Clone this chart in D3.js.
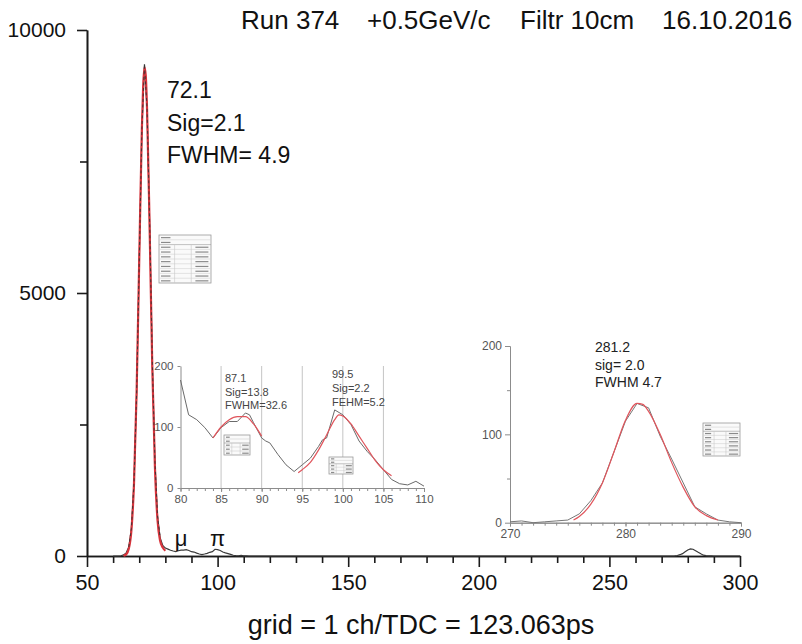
<!DOCTYPE html>
<html>
<head>
<meta charset="utf-8">
<script src="https://cdn.jsdelivr.net/npm/d3@7"></script>
<style>
  html, body { margin: 0; padding: 0; background: #fff; }
  svg { display: block; }
  text { font-family: "Liberation Sans", Arial, Helvetica, sans-serif; }
</style>
</head>
<body>
<svg id="chart" width="802" height="644"></svg>
<script>
// ---------------- DATA ----------------
const titleParts = ["Run 374", "+0.5GeV/c", "Filtr 10cm", "16.10.2016"];
const xAxisTitle = "grid = 1 ch/TDC = 123.063ps";

const mainXTicks = [50, 100, 150, 200, 250, 300];
const mainXMinorTicks = [60, 70, 80, 90, 110, 120, 130, 140, 160, 170, 180, 190, 210, 220, 230, 240, 260, 270, 280, 290];
const mainYTicks = [0, 5000, 10000];
const mainYMinorTicks = [2500, 7500];

// [channel, counts]
const mainSpectrum = [
  [60,0],[62,0],[63,5],[64,20],[65,60],[66,170],[67,520],[68,1400],[69,3100],[70,5600],
  [71,8100],[72,9350],[73,8500],[74,6300],[75,3700],[76,1800],[77,760],[78,350],[79,200],[80,150],
  [81,130],[82,110],[83,95],[84,85],[85,100],[86,110],[87,112],[88,122],[89,105],[90,82],
  [91,75],[92,55],[93,38],[94,28],[95,38],[96,50],[97,70],[98,82],[99,128],[100,120],
  [101,104],[102,77],[103,60],[104,46],[105,30],[106,14],[107,7],[108,5],[109,11],[110,3],
  [111,1],[112,0],[274,0],[275,3],[276,10],[277,25],[278,45],[279,80],[280,115],[281,135],
  [282,128],[283,100],[284,70],[285,42],[286,16],[287,8],[288,3],[289,1],[290,0],[300,0]
];
const mainFit = [
  [64,6],[65,31],[66,137],[67,487],[68,1383],[69,3129],[70,5641],[71,8108],[71.5,8928],
  [72,9289],[72.5,9133],[73,8484],[74,6176],[75,3584],[76,1700],[77,680],[78,290],[79,160],[80,100]
];
const mainPeakLabel = ["72.1", "Sig=2.1", "FWHM= 4.9"];
const particleLabels = [["\u03bc", 86], ["\u03c0", 100]];

// inset 1 (muon / pion region)
const inset1XTicks = [80, 85, 90, 95, 100, 105, 110];
const inset1YTicks = [0, 100, 200];
const inset1Spectrum = [
  [80,177],[81,120],[82,112],[83,99],[84,82],[85,99],[86,109],[87,109],[88,123],[88.5,120],
  [89,107],[90,82],[90.5,77],[91,74],[92,55],[93,38],[94,27],[95,38],[96,49],[97,68],
  [97.5,79],[98,82],[99,128],[100,120],[101,104],[102,77],[103,60],[104,46],[105,30],[106,14],
  [107,7],[108,5],[109,11],[110,3]
];
const inset1FitA = [[84,82],[85,100],[86,112],[87,117],[88,117],[89,105],[90,85]];
const inset1FitB = [
  [94.5,25],[95,30],[96,42],[97,62],[98,87],[99,112],[99.5,120],[100,118],[101,105],
  [102,85],[103,65],[104,45],[105,30],[106,20]
];
const inset1LabelA = ["87.1", "Sig=13.8", "FWHM=32.6"];
const inset1LabelB = ["99.5", "Sig=2.2", "FEHM=5.2"];

// inset 2 (channel 280 region)
const inset2XTicks = [270, 280, 290];
const inset2YTicks = [0, 100, 200];
const inset2YMinorTicks = [50, 150];
const inset2Spectrum = [
  [270,1],[271,2],[272,0],[273,1],[274,2],[275,3],[276,10],[277,25],[278,45],[279,80],
  [280,115],[281,135],[282,130],[283,98],[284,72],[285,45],[286,18],[287,10],[288,3],[289,1],[290,0]
];
const inset2Fit = [
  [275.5,3],[276,7],[277,21],[278,45],[279,80],[280,116],[281,135],[281.5,134],[282,126],
  [283,100],[284,68],[285,40],[286,18],[287,8],[288,3]
];
const inset2Label = ["281.2", "sig= 2.0", "FWHM 4.7"];

// ---------------- DRAW ----------------
const svg = d3.select("#chart");
const RED = "#d8343c";
const INK = "#1a1a1a";
const GRAY = "#8c8c8c";

// main scales
const x = d3.scaleLinear().domain([50, 300]).range([87, 740]);
const y = d3.scaleLinear().domain([0, 10000]).range([556, 30]);

function styleAxis(g, color, width, fontSize) {
  g.select(".domain").attr("stroke", color).attr("stroke-width", width);
  g.selectAll(".tick line").attr("stroke", color).attr("stroke-width", width);
  g.selectAll(".tick text").attr("fill", color === INK ? "#111" : "#555")
    .attr("font-size", fontSize).attr("font-family", '"Liberation Sans", Arial, sans-serif');
}

// main x-axis
const gxMinor = svg.append("g").attr("transform", `translate(0,${y(0)})`)
  .call(d3.axisBottom(x).tickValues(mainXMinorTicks).tickSize(7).tickSizeOuter(0).tickFormat(""));
styleAxis(gxMinor, INK, 1.6, 20);
const gx = svg.append("g").attr("transform", `translate(0,${y(0)})`)
  .call(d3.axisBottom(x).tickValues(mainXTicks).tickSize(11).tickSizeOuter(0).tickPadding(8).tickFormat(d3.format("d")));
styleAxis(gx, INK, 1.6, 21.5);

// main y-axis
const gyMinor = svg.append("g").attr("transform", `translate(${x(50)},0)`)
  .call(d3.axisLeft(y).tickValues(mainYMinorTicks).tickSize(7).tickSizeOuter(0).tickFormat(""));
styleAxis(gyMinor, INK, 1.6, 20);
const gy = svg.append("g").attr("transform", `translate(${x(50)},0)`)
  .call(d3.axisLeft(y).tickValues(mainYTicks).tickSize(10).tickSizeOuter(0).tickPadding(11).tickFormat(d3.format("d")));
styleAxis(gy, INK, 1.6, 21);

// title
const titleX = [241, 367, 520, 662];
svg.append("g").selectAll("text").data(titleParts).join("text")
  .attr("x", (d, i) => titleX[i]).attr("y", 29)
  .attr("font-size", 26).attr("fill", "#111").text(d => d);

// x-axis title
svg.append("text").attr("x", 421).attr("y", 634)
  .attr("text-anchor", "middle").attr("font-size", 27).attr("fill", "#111").text(xAxisTitle);

// main lines
const mainLine = d3.line().x(d => x(d[0])).y(d => y(d[1]));
const mainFitLine = d3.line().x(d => x(d[0])).y(d => y(d[1])).curve(d3.curveMonotoneX);

svg.append("path").datum(mainSpectrum).attr("d", mainLine)
  .attr("fill", "none").attr("stroke", "#3a3a3a").attr("stroke-width", 1.2);
svg.append("path").datum(mainFit).attr("d", mainFitLine)
  .attr("fill", "none").attr("stroke", RED).attr("stroke-width", 2.2);
svg.append("path").datum(mainSpectrum.filter(d => d[0] >= 66 && d[0] <= 78)).attr("d", mainLine)
  .attr("fill", "none").attr("stroke", "#333").attr("stroke-width", 0.9).attr("stroke-dasharray", "3,2.5");

// main peak label
svg.append("g").selectAll("text").data(mainPeakLabel).join("text")
  .attr("x", 167).attr("y", (d, i) => 98 + i * 32.5)
  .attr("font-size", 23).attr("fill", "#111").text(d => d);

// particle labels
svg.append("g").selectAll("text").data(particleLabels).join("text")
  .attr("x", d => x(d[1])).attr("y", 546)
  .attr("text-anchor", "middle").attr("font-size", 22)
  .attr("font-family", '"Liberation Serif", "DejaVu Serif", serif').attr("fill", "#111")
  .text(d => d[0]);

// stat boxes (decorative, unreadable tables)
function statBox(bx, by, bw, bh, rows) {
  const g = svg.append("g").attr("transform", `translate(${bx},${by})`);
  g.append("rect").attr("width", bw).attr("height", bh).attr("fill", "#fafafa")
    .attr("stroke", "#9a9a9a").attr("stroke-width", 0.8);
  const rh = bh / rows;
  for (let i = 1; i < rows; i++) {
    g.append("line").attr("x1", 0).attr("x2", bw).attr("y1", i * rh).attr("y2", i * rh)
      .attr("stroke", i === 2 ? "#999" : "#d2d2d2").attr("stroke-width", 0.6);
  }
  [0.3, 0.62].forEach(f => g.append("line").attr("x1", bw * f).attr("x2", bw * f)
    .attr("y1", rh * 2).attr("y2", bh).attr("stroke", "#c8c8c8").attr("stroke-width", 0.6));
  for (let i = 0; i < rows; i++) {
    g.append("line").attr("x1", 2).attr("x2", bw * 0.22).attr("y1", i * rh + rh * 0.55).attr("y2", i * rh + rh * 0.55)
      .attr("stroke", "#8a8a8a").attr("stroke-width", Math.min(1.2, rh * 0.35));
    if (i > 1) g.append("line").attr("x1", bw * 0.7).attr("x2", bw * 0.95).attr("y1", i * rh + rh * 0.55).attr("y2", i * rh + rh * 0.55)
      .attr("stroke", "#8a8a8a").attr("stroke-width", Math.min(1.2, rh * 0.35));
  }
}
statBox(159, 235, 52, 48, 10);

// ---------------- INSET 1 ----------------
const x1 = d3.scaleLinear().domain([80, 110]).range([180.5, 424]);
const y1 = d3.scaleLinear().domain([0, 200]).range([488, 366]);

svg.append("g").selectAll("line").data(inset1XTicks.filter(d => d > 80 && d < 110)).join("line")
  .attr("x1", d => x1(d)).attr("x2", d => x1(d)).attr("y1", y1(0)).attr("y2", y1(200))
  .attr("stroke", "#c4c4c4").attr("stroke-width", 1);

const g1xMinor = svg.append("g").attr("transform", `translate(0,${y1(0)})`)
  .call(d3.axisBottom(x1).ticks(30).tickSize(3).tickSizeOuter(0).tickFormat(""));
styleAxis(g1xMinor, GRAY, 1, 11);
const g1x = svg.append("g").attr("transform", `translate(0,${y1(0)})`)
  .call(d3.axisBottom(x1).tickValues(inset1XTicks).tickSize(4).tickSizeOuter(0).tickPadding(3));
styleAxis(g1x, GRAY, 1, 11.5);
const g1y = svg.append("g").attr("transform", `translate(${x1(80)},0)`)
  .call(d3.axisLeft(y1).tickValues(inset1YTicks).tickSize(3).tickSizeOuter(0).tickPadding(4));
styleAxis(g1y, GRAY, 1, 11.5);

const l1 = d3.line().x(d => x1(d[0])).y(d => y1(d[1]));
const l1f = d3.line().x(d => x1(d[0])).y(d => y1(d[1])).curve(d3.curveMonotoneX);
svg.append("path").datum(inset1Spectrum).attr("d", l1)
  .attr("fill", "none").attr("stroke", "#6a6a6a").attr("stroke-width", 1);
[inset1FitA, inset1FitB].forEach(f => svg.append("path").datum(f).attr("d", l1f)
  .attr("fill", "none").attr("stroke", "#e0555c").attr("stroke-width", 1.2));

function labelBlock(lines, lx, ly, step, size, color) {
  svg.append("g").selectAll("text").data(lines).join("text")
    .attr("x", lx).attr("y", (d, i) => ly + i * step)
    .attr("font-size", size).attr("fill", color).text(d => d);
}
labelBlock(inset1LabelA, 225, 382, 13.5, 11, "#444");
labelBlock(inset1LabelB, 332, 378, 14, 11, "#444");
statBox(224, 435, 26, 20, 5);
statBox(329, 457, 24, 17, 5);

// ---------------- INSET 2 ----------------
const x2 = d3.scaleLinear().domain([270, 290]).range([510, 741]);
const y2 = d3.scaleLinear().domain([0, 200]).range([522.7, 346]);

const g2xMinor = svg.append("g").attr("transform", `translate(0,${y2(0)})`)
  .call(d3.axisBottom(x2).ticks(20).tickSize(3).tickSizeOuter(0).tickFormat(""));
styleAxis(g2xMinor, GRAY, 1, 12);
const g2x = svg.append("g").attr("transform", `translate(0,${y2(0)})`)
  .call(d3.axisBottom(x2).tickValues(inset2XTicks).tickSize(4).tickSizeOuter(0).tickPadding(3));
styleAxis(g2x, GRAY, 1, 12);
const g2yMinor = svg.append("g").attr("transform", `translate(${x2(270)},0)`)
  .call(d3.axisLeft(y2).tickValues(inset2YMinorTicks).tickSize(3).tickSizeOuter(0).tickFormat(""));
styleAxis(g2yMinor, GRAY, 1, 12);
const g2y = svg.append("g").attr("transform", `translate(${x2(270)},0)`)
  .call(d3.axisLeft(y2).tickValues(inset2YTicks).tickSize(5).tickSizeOuter(0).tickPadding(3));
styleAxis(g2y, GRAY, 1, 12);

const l2 = d3.line().x(d => x2(d[0])).y(d => y2(d[1]));
const l2f = d3.line().x(d => x2(d[0])).y(d => y2(d[1])).curve(d3.curveMonotoneX);
svg.append("path").datum(inset2Spectrum).attr("d", l2)
  .attr("fill", "none").attr("stroke", "#777").attr("stroke-width", 1);
svg.append("path").datum(inset2Fit).attr("d", l2f)
  .attr("fill", "none").attr("stroke", "#e0555c").attr("stroke-width", 1.2);

labelBlock(inset2Label, 595, 352, 17.5, 14, "#222");
statBox(703, 423, 37, 33, 8);
</script>
</body>
</html>
